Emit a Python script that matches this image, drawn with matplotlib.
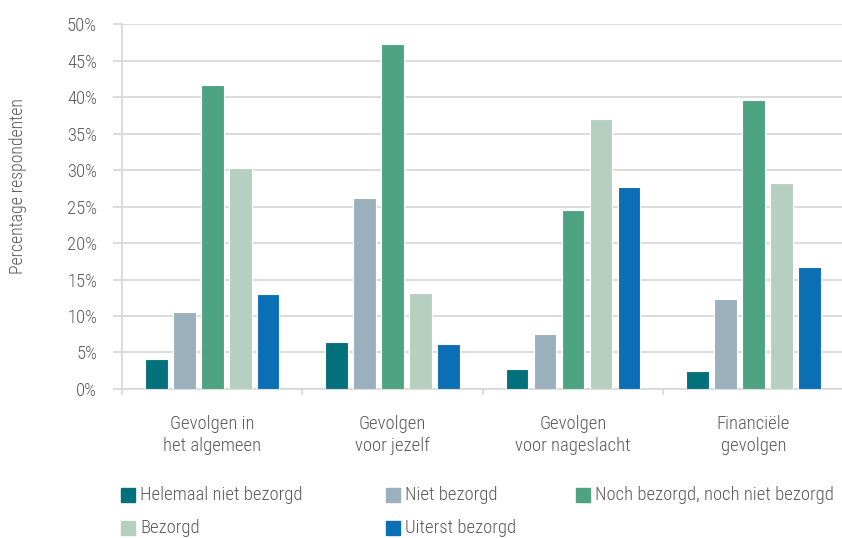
import matplotlib
matplotlib.use("Agg")
import matplotlib.pyplot as plt
from matplotlib import font_manager
from matplotlib.patches import Rectangle
import numpy as np

# smalle letter als die er is, anders gewoon Roboto
fonts = font_manager.fontManager.ttflist
beschikbaar = {f.name for f in fonts}
kandidaten = ["Roboto Condensed", "DejaVu Sans Condensed", "Liberation Sans Narrow",
              "Open Sans Condensed", "Roboto"]
FONT = next((k for k in kandidaten if k in beschikbaar), "DejaVu Sans")
gewichten = {f.weight for f in fonts if f.name == FONT}
WEIGHT = "light" if (300 in gewichten or "light" in gewichten) else "normal"
plt.rcParams["font.family"] = [FONT, "DejaVu Sans"]
plt.rcParams["font.weight"] = WEIGHT
STRETCH = "condensed"

TXT = "#595959"; GRID = "#D9D9D9"

categories = ["Gevolgen in\nhet algemeen", "Gevolgen\nvoor jezelf",
              "Gevolgen\nvoor nageslacht", "Financiële\ngevolgen"]
series = ["Helemaal niet bezorgd", "Niet bezorgd", "Noch bezorgd, noch niet bezorgd",
          "Bezorgd", "Uiterst bezorgd"]
colors = ["#03717B", "#9AB0BC", "#4EA383", "#B5CFC0", "#0A6FB4"]

helemaal_niet = [4.1, 6.5, 2.8, 2.5]
niet = [10.6, 26.2, 7.5, 12.4]
noch = [41.6, 47.3, 24.5, 39.6]
bezorgd = [30.3, 13.2, 37.0, 28.2]
uiterst = [13.0, 6.2, 27.7, 16.7]
values = [helemaal_niet, niet, noch, bezorgd, uiterst]

yticks = [0, 5, 10, 15, 20, 25, 30, 35, 40, 45, 50]

fig = plt.figure(figsize=(8.42, 5.38), dpi=100)
ax = fig.add_axes([0.145, 0.277, 0.857, 0.678])

x = np.arange(len(categories))
pitch = 0.155
w = 0.125
for k, (vals, col) in enumerate(zip(values, colors)):
    ax.bar(x + (k - 2) * pitch, vals, width=w, color=col,
           edgecolor="white", linewidth=0.8, zorder=3)

fs = 13.4 if FONT != "Roboto" else 11.5
ax.set_ylim(0, 50)
ax.set_xlim(-0.5, 3.48)
ax.set_yticks(yticks)
ax.set_yticklabels([f"{t}%" for t in yticks], color=TXT, fontsize=fs, fontstretch=STRETCH)
ax.set_xticks(x)
ax.set_xticklabels(categories, color=TXT, fontsize=fs, linespacing=1.25,
                   fontstretch=STRETCH)
ax.set_xticks(np.arange(-0.5, 3.6, 1), minor=True)
ax.tick_params(axis="x", which="major", length=0, pad=19)
ax.tick_params(axis="x", which="minor", length=4, color=GRID, width=1.2)
ax.tick_params(axis="y", length=6.5, color=GRID, width=1.3, pad=11.5)
ax.grid(axis="y", color=GRID, linewidth=1.3, zorder=0)
ax.set_axisbelow(True)
for s in ("top", "right"):
    ax.spines[s].set_visible(False)
ax.spines["left"].set_color(GRID)
ax.spines["left"].set_linewidth(1.3)
ax.spines["bottom"].set_color(GRID)
ax.spines["bottom"].set_linewidth(1.3)

fig.text(18 / 842, 1 - 186 / 538, "Percentage respondenten", rotation=90, color=TXT,
         fontsize=fs - 0.6, ha="center", va="center", fontstretch=STRETCH)

# legenda: twee rijen, drie kolommen
leg_x = [121, 386, 576]
leg_y = [495, 528]
for k, (lab, col) in enumerate(zip(series, colors)):
    px = leg_x[k % 3]
    py = leg_y[k // 3]
    fig.patches.append(Rectangle((px / 842, 1 - (py + 7) / 538), 14 / 842, 14 / 538,
                                 transform=fig.transFigure, color=col))
    fig.text((px + 19) / 842, 1 - py / 538, lab, color=TXT, fontsize=fs,
             ha="left", va="center", fontstretch=STRETCH)

fig.savefig("out.png", dpi=100, facecolor="white")
